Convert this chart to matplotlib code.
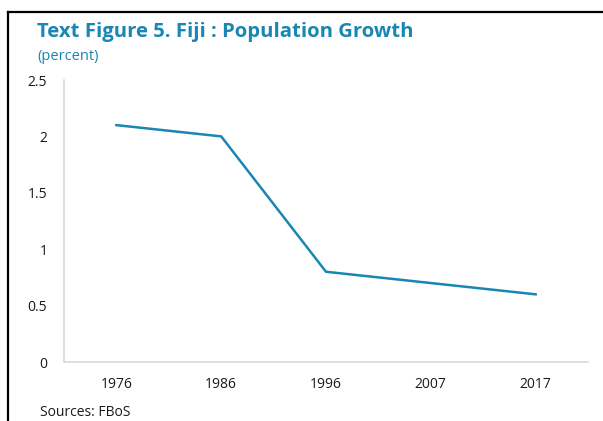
import matplotlib
matplotlib.use("Agg")
import matplotlib.pyplot as plt
from matplotlib.lines import Line2D

years = ["1976", "1986", "1996", "2007", "2017"]
growth = [2.1, 2.0, 0.8, 0.7, 0.6]
yticks = [0, 0.5, 1, 1.5, 2, 2.5]
yticklabels = ["0", "0.5", "1", "1.5", "2", "2.5"]

plt.rcParams['font.family'] = ['Open Sans', 'DejaVu Sans']

W, H = 603, 421
fig = plt.figure(figsize=(W / 100, H / 100), dpi=100)
fig.patch.set_facecolor("white")

ax = fig.add_axes([64 / W, 1 - 362 / H, (588 - 64) / W, (362 - 80) / H])
x = list(range(len(years)))
ax.plot(x, growth, color="#1a86b2", linewidth=1.8, solid_joinstyle="miter")
ax.set_xlim(-0.5, len(years) - 0.5)
ax.set_ylim(0, 2.5)
ax.set_xticks(x)
ax.set_xticklabels(years)
ax.set_yticks(yticks)
ax.set_yticklabels(yticklabels)
for s in ["top", "right"]:
    ax.spines[s].set_visible(False)
for s in ["left", "bottom"]:
    ax.spines[s].set_color("#d9d9d9")
    ax.spines[s].set_linewidth(1.2)
ax.tick_params(axis="both", length=0, labelsize=10, labelcolor="#1a1a1a")
ax.tick_params(axis="x", pad=11)
ax.tick_params(axis="y", pad=12)
for lbl in ax.get_yticklabels():
    lbl.set_horizontalalignment("right")

fig.text(37 / W, 1 - 37 / H, "Text Figure 5. Fiji : Population Growth",
         fontsize=14.6, fontweight="bold", color="#1a86b2", va="baseline", ha="left")
fig.text(37 / W, 1 - 60 / H, "(percent)", fontsize=10.5, color="#1a86b2",
         va="baseline", ha="left")
fig.text(40 / W, 1 - 416 / H, "Sources: FBoS", fontsize=10, color="#1a1a1a",
         va="baseline", ha="left")

# frame lines (top and left)
fig.add_artist(Line2D([8 / W, 1.0], [1 - 12 / H, 1 - 12 / H], color="black",
                      linewidth=1.6, transform=fig.transFigure))
fig.add_artist(Line2D([8 / W, 8 / W], [1 - 12 / H, 0.0], color="black",
                      linewidth=1.6, transform=fig.transFigure))

fig.savefig("out.png", dpi=100)
